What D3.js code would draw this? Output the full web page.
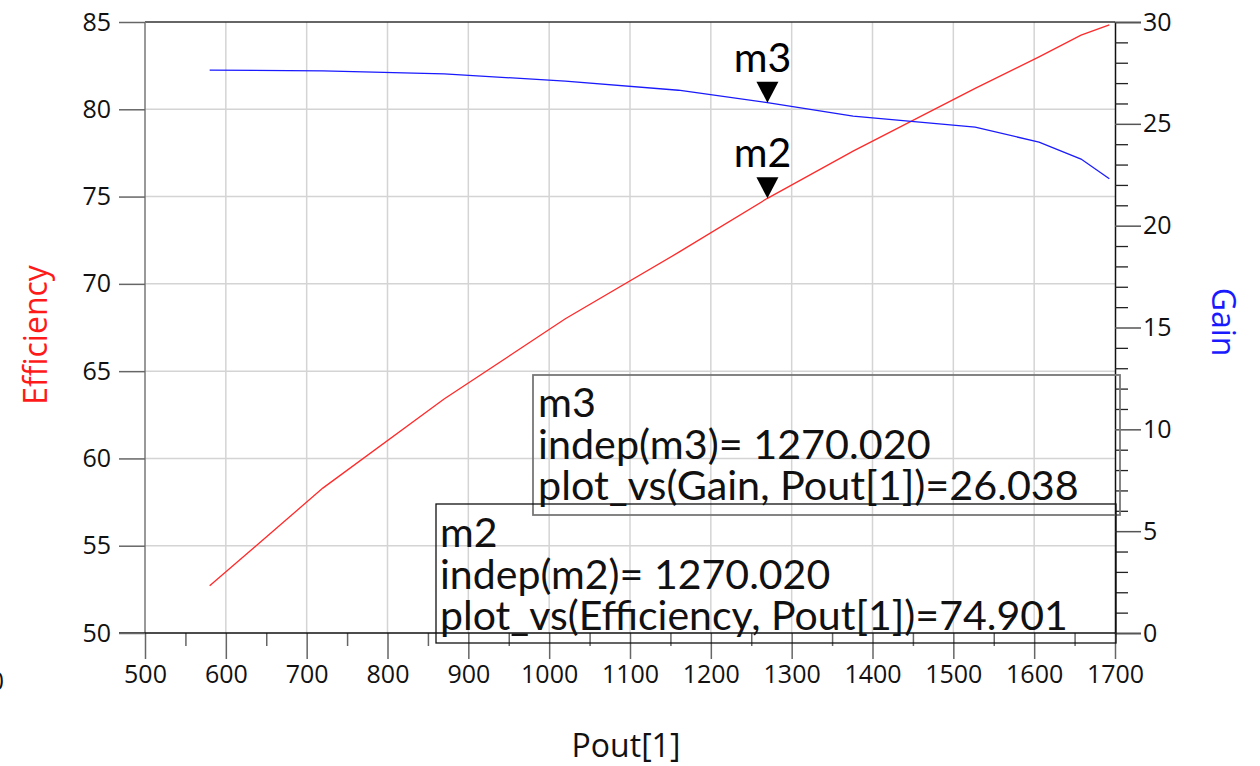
<!DOCTYPE html>
<html>
<head>
<meta charset="utf-8">
<script src="https://cdn.jsdelivr.net/npm/d3@7"></script>
<style>
  html, body { margin: 0; padding: 0; background: #fff; }
  svg { display: block; }
</style>
</head>
<body>
<svg id="chart" width="1260" height="766"></svg>
<script>
// ---- data ----
const pout       = [580, 720, 870, 1020, 1160, 1270, 1376, 1527, 1606, 1658, 1693];
const efficiency = [52.7, 58.3, 63.4, 68.0, 71.8, 74.9, 77.6, 81.2, 83.0, 84.25, 84.83];
const gain       = [27.64, 27.6, 27.45, 27.1, 26.65, 26.04, 25.38, 24.84, 24.1, 23.27, 22.3];

const xTicks      = [500, 600, 700, 800, 900, 1000, 1100, 1200, 1300, 1400, 1500, 1600, 1700];
const xMinorTicks = [550, 650, 750, 850, 950, 1050, 1150, 1250, 1350, 1450, 1550, 1650];
const leftTicks   = [50, 55, 60, 65, 70, 75, 80, 85];
const rightTicks  = [0, 5, 10, 15, 20, 25, 30];
const rightMinor  = d3.range(0, 31).filter(v => v % 5 !== 0);

const markerNames  = ["m2", "m3"];
const markerX      = [1270.020, 1270.020];
const markerY      = [74.901, 26.038];
const markerAxis   = ["left", "right"];
const markerLines  = [
  ["m2", "indep(m2)= 1270.020", "plot_vs(Efficiency, Pout[1])=74.901"],
  ["m3", "indep(m3)= 1270.020", "plot_vs(Gain, Pout[1])=26.038"]
];

// ---- layout ----
const L = 145, R = 1115, T = 22, B = 633;
const svg = d3.select("#chart");
const x  = d3.scaleLinear().domain([500, 1700]).range([L, R]);
const yL = d3.scaleLinear().domain([50, 85]).range([B, T]);
const yR = d3.scaleLinear().domain([0, 30]).range([B, T]);

const tickFont = "'Open Sans', 'DejaVu Sans', sans-serif";
const markFont = "Lato, 'Open Sans', sans-serif";

// grid
const grid = svg.append("g");
grid.selectAll(".gv").data(xTicks.slice(1, -1)).join("line")
  .attr("x1", d => x(d)).attr("x2", d => x(d)).attr("y1", T).attr("y2", B)
  .attr("stroke", "#d4d4d4").attr("stroke-width", 1.5);
grid.selectAll(".gh").data(leftTicks.slice(1, -1)).join("line")
  .attr("x1", L).attr("x2", R).attr("y1", d => yL(d)).attr("y2", d => yL(d))
  .attr("stroke", "#d4d4d4").attr("stroke-width", 1.5);

// curves
const effLine = d3.line().x((d, i) => x(pout[i])).y(d => yL(d));
const gainLine = d3.line().x((d, i) => x(pout[i])).y(d => yR(d));
svg.append("path").attr("d", effLine(efficiency)).attr("fill", "none")
  .attr("stroke", "#ff2a2a").attr("stroke-width", 1.3);
svg.append("path").attr("d", gainLine(gain)).attr("fill", "none")
  .attr("stroke", "#1a1aff").attr("stroke-width", 1.3);

// frame
svg.append("line").attr("x1", L).attr("x2", R).attr("y1", T).attr("y2", T)
  .attr("stroke", "#333").attr("stroke-width", 1.5);
svg.append("line").attr("x1", L).attr("x2", L).attr("y1", T).attr("y2", B)
  .attr("stroke", "#777").attr("stroke-width", 1.5);

// bottom axis
const xAxis = svg.append("g").attr("transform", `translate(0,${B})`)
  .call(d3.axisBottom(x).tickValues(xTicks).tickSize(26).tickPadding(6).tickFormat(d3.format("d")));
xAxis.select(".domain").remove();
xAxis.selectAll(".tick line").attr("stroke", "#666").attr("stroke-width", 1.5);
xAxis.selectAll(".tick text").attr("font-family", tickFont).attr("font-size", 25).attr("fill", "#111");
const xMinor = svg.append("g").attr("transform", `translate(0,${B})`)
  .call(d3.axisBottom(x).tickValues(xMinorTicks).tickSize(13).tickFormat(""));
xMinor.select(".domain").remove();
xMinor.selectAll(".tick line").attr("stroke", "#666").attr("stroke-width", 1.5);
svg.append("line").attr("x1", 119).attr("x2", R).attr("y1", B).attr("y2", B)
  .attr("stroke", "#111").attr("stroke-width", 1.5);

// left axis
const yAxisL = svg.append("g").attr("transform", `translate(${L},0)`)
  .call(d3.axisLeft(yL).tickValues(leftTicks).tickSize(26).tickPadding(8));
yAxisL.select(".domain").remove();
yAxisL.selectAll(".tick line").attr("stroke", "#666").attr("stroke-width", 1.5);
yAxisL.selectAll(".tick text").attr("font-family", tickFont).attr("font-size", 25).attr("fill", "#111");

// right axis
const yAxisR = svg.append("g").attr("transform", `translate(${R},0)`)
  .call(d3.axisRight(yR).tickValues(rightTicks).tickSize(26).tickPadding(2));
yAxisR.select(".domain").attr("stroke", "#111").attr("stroke-width", 1.5);
yAxisR.selectAll(".tick line").attr("stroke", "#555").attr("stroke-width", 1.5);
yAxisR.selectAll(".tick text").attr("font-family", tickFont).attr("font-size", 25).attr("fill", "#111");
const yMinorR = svg.append("g").attr("transform", `translate(${R},0)`)
  .call(d3.axisRight(yR).tickValues(rightMinor).tickSize(13).tickFormat(""));
yMinorR.select(".domain").remove();
yMinorR.selectAll(".tick line").attr("stroke", "#222").attr("stroke-width", 1.3);

// axis titles
svg.append("text").text("Pout[1]").attr("x", 626).attr("y", 757)
  .attr("text-anchor", "middle").attr("font-family", tickFont).attr("font-size", 32).attr("fill", "#111");
svg.append("text").text("Efficiency")
  .attr("transform", "translate(47,335) rotate(-90)")
  .attr("text-anchor", "middle").attr("font-family", tickFont).attr("font-size", 32).attr("fill", "#ff1a1a");
svg.append("text").text("Gain")
  .attr("transform", "translate(1212,322) rotate(90)")
  .attr("text-anchor", "middle").attr("font-family", tickFont).attr("font-size", 32).attr("fill", "#1a1aff");
// clipped stray label at the far left edge
svg.append("text").text("0").attr("x", 4).attr("y", 690)
  .attr("text-anchor", "end").attr("font-family", tickFont).attr("font-size", 25).attr("fill", "#111");

// marker boxes
const boxes = [
  { x0: 436, y0: 504, x1: 1116, y1: 643, tx: 440, base: 547, target: 628, stroke: "#111", sw: 1.3 },
  { x0: 533, y0: 375, x1: 1120, y1: 515, tx: 538, base: 417, target: 541, stroke: "#777", sw: 1.8 }
];
let markSize = 36;
[1, 0].forEach(i => {
  const b = boxes[i];
  const g = svg.append("g");
  g.append("rect").attr("x", b.x0).attr("y", b.y0).attr("width", b.x1 - b.x0).attr("height", b.y1 - b.y0)
    .attr("fill", "none").attr("stroke", b.stroke).attr("stroke-width", b.sw);
  const t = g.selectAll("text").data(markerLines[i]).join("text")
    .attr("x", b.tx).attr("y", (d, j) => b.base + j * 41.5)
    .attr("font-family", markFont).attr("font-size", 36).attr("fill", "#111").text(d => d);
  const w = t.nodes()[2].getComputedTextLength();
  const fs = 36 * b.target / w;
  t.attr("font-size", fs);
  if (i === 0) markSize = fs;
});

// marker triangles + labels
markerNames.forEach((name, i) => {
  const px = x(markerX[i]);
  const py = markerAxis[i] === "left" ? yL(markerY[i]) : yR(markerY[i]);
  svg.append("path")
    .attr("d", `M${px - 11},${py - 21} L${px + 11},${py - 21} L${px},${py} Z`)
    .attr("fill", "#000");
  svg.append("text").text(name).attr("x", px - 5).attr("y", py - 31)
    .attr("text-anchor", "middle").attr("font-family", markFont).attr("font-size", markSize).attr("fill", "#000");
});
</script>
</body>
</html>
